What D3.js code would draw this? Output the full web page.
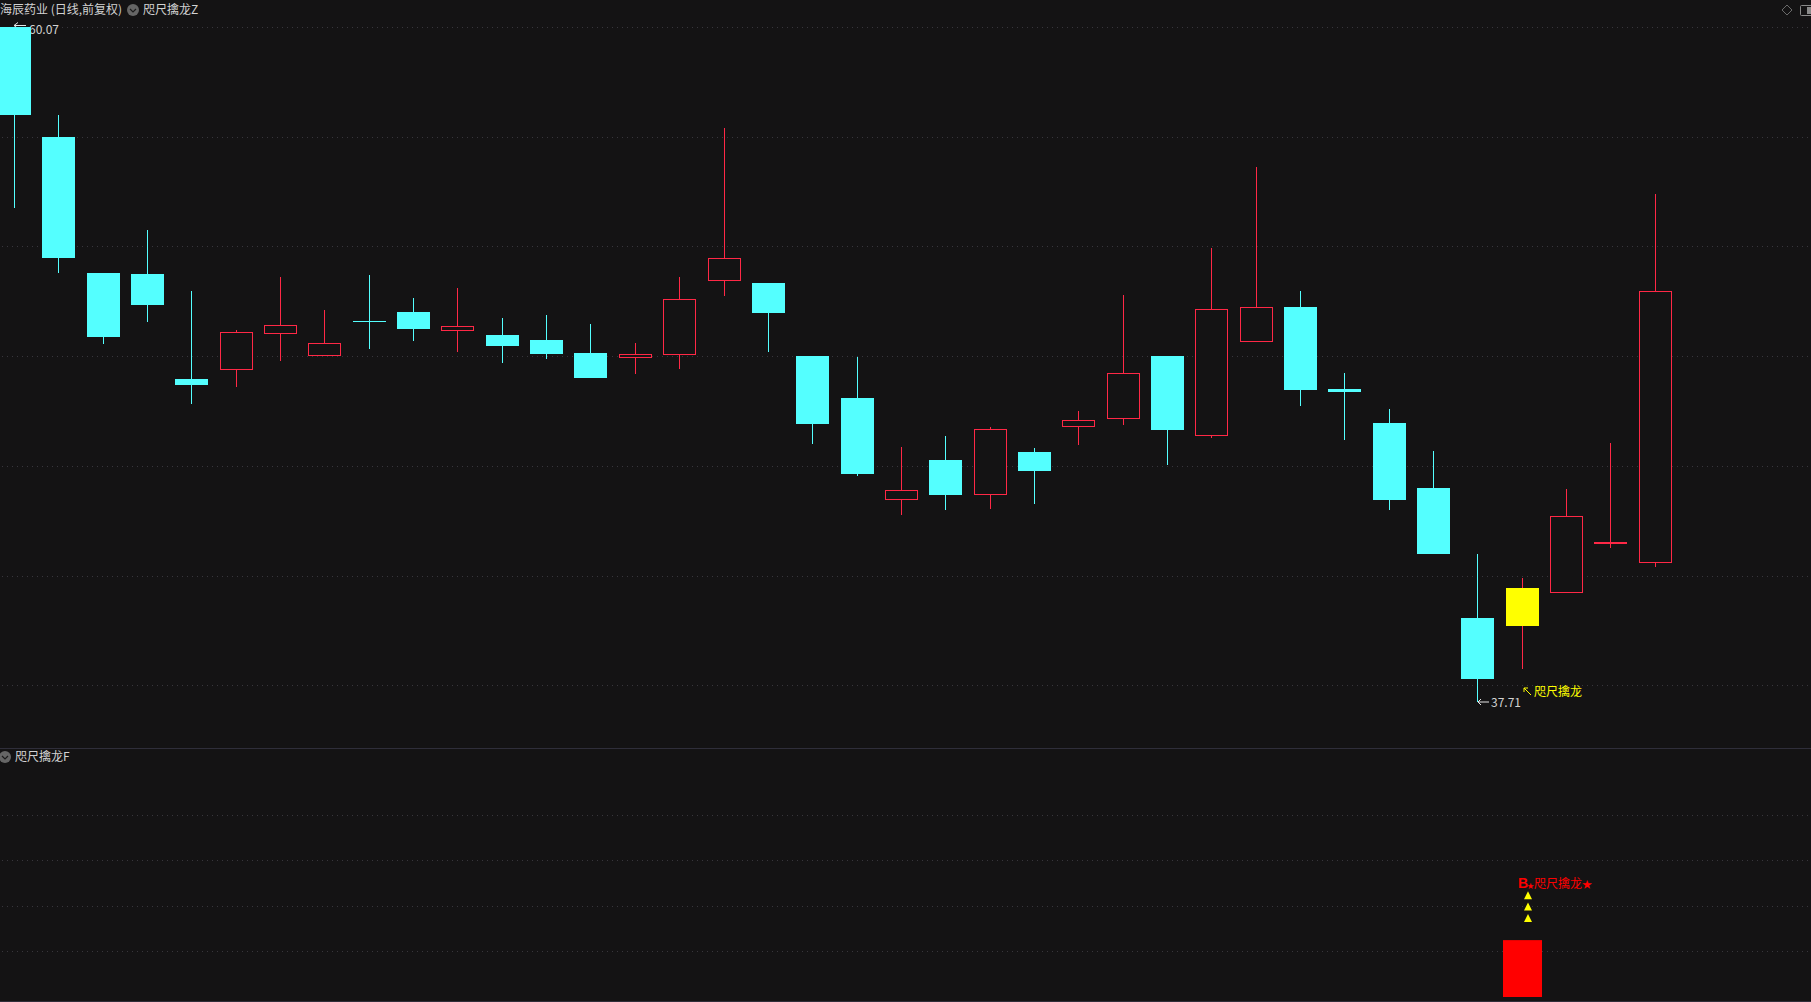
<!DOCTYPE html>
<html>
<head>
<meta charset="utf-8">
<script src="https://cdn.jsdelivr.net/npm/d3@7"></script>
<style>
html, body { margin: 0; padding: 0; background: #141314; overflow: hidden; }
svg { display: block; }
text { font-family: "Noto Sans CJK SC", "Liberation Sans", sans-serif; font-size: 12px; }
</style>
</head>
<body>
<svg></svg>
<script>
// 数据：K线（开、高、低、收）
var opens = [60.07, 56.42, 51.91, 51.88, 48.40, 48.74, 49.94, 49.21, 50.31, 50.62, 50.04, 49.86, 49.69, 49.26, 49.14, 49.24, 51.69, 51.58, 49.16,
    47.77, 44.43, 45.72, 44.60, 45.98, 46.85, 47.10, 49.16, 46.55, 49.67, 50.79, 48.07, 46.94, 44.79, 40.48, 40.21, 41.33, 42.98, 42.33];
var highs = [60.07, 57.15, 51.91, 53.34, 51.32, 50.03, 51.78, 50.69, 51.85, 51.09, 51.42, 50.42, 50.52, 50.22, 49.59, 51.78, 56.72, 51.58, 49.16,
    49.13, 46.15, 46.51, 46.81, 46.11, 47.34, 51.19, 49.16, 52.74, 55.43, 51.32, 48.60, 47.41, 46.01, 42.60, 41.80, 44.75, 46.28, 54.53];
var lows = [54.08, 51.92, 49.57, 50.29, 47.58, 48.15, 49.01, 49.21, 49.41, 49.66, 49.31, 48.94, 49.07, 48.43, 48.58, 48.74, 51.16, 49.31, 46.26,
    45.20, 43.90, 44.07, 44.10, 44.27, 46.22, 46.89, 45.55, 46.46, 49.67, 47.51, 46.39, 44.07, 42.60, 37.71, 38.80, 41.33, 42.80, 42.18];
var closes = [57.15, 52.42, 49.79, 50.85, 48.20, 49.95, 50.18, 49.58, 50.31, 50.06, 50.15, 49.50, 49.23, 48.43, 49.22, 51.04, 52.40, 50.59, 46.91,
    45.25, 44.71, 44.56, 46.73, 45.35, 47.03, 48.59, 46.71, 50.71, 50.78, 48.04, 47.97, 44.39, 42.60, 38.46, 41.47, 43.85, 43.01, 51.31];

// 主图网格价位、副图网格值
var priceGrid = [60.05, 56.42, 52.79, 49.15, 45.50, 41.85, 38.24];
var subGrid = [20, 40, 60, 80];

// 信号：第35根
var signalIndex = 34;
var subBarValue = 25;
var subTriangles = [33, 38, 43];

var maxPrice = 60.07, minPrice = 37.71;

var mainTitle = "海辰药业 (日线,前复权)";
var mainIndicator = "咫尺擒龙Z";
var subIndicator = "咫尺擒龙F";
var signalLabel = "咫尺擒龙";
var subLabel = "咫尺擒龙";

var width = 1811, height = 1002;
var cyan = "#54ffff", red = "#ff2846", textColor = "#d2d2d2", gridColor = "#38363c";

var svg = d3.select("svg").attr("width", width).attr("height", height);
svg.append("rect").attr("width", width).attr("height", height).attr("fill", "#141314");

// 比例尺
var x = d3.scaleLinear().domain([0, 37]).range([14.6, 1655.1]);
var y = d3.scaleLinear().domain([maxPrice, minPrice]).range([27, 701.5]);
var ySub = d3.scaleLinear().domain([0, 100]).range([997, 769.5]);

var px = function (i) { return Math.floor(x(i)); };
var py = function (v) { return Math.round(y(v)); };

// 网格
var dotted = function (sel, yPos) {
    sel.append("line")
        .attr("x1", 2).attr("x2", width)
        .attr("y1", yPos).attr("y2", yPos)
        .attr("stroke", gridColor)
        .attr("stroke-dasharray", "1,4");
};
priceGrid.forEach(function (d) { dotted(svg, Math.floor(y(d)) + 0.5); });
subGrid.forEach(function (d) { dotted(svg, Math.floor(ySub(d)) + 0.5); });

// 分隔线
svg.append("line").attr("x1", 0).attr("x2", width).attr("y1", 748.5).attr("y2", 748.5).attr("stroke", "#2f2e3a");
svg.append("line").attr("x1", 0).attr("x2", width).attr("y1", 1001.5).attr("y2", 1001.5).attr("stroke", "#2f2e3a");

// 最高价标注，K线盖在它上面
var hiX = px(0), hiY = py(maxPrice);
svg.append("path")
    .attr("d", "M" + (hiX + 4) + "," + (hiY - 4.5) + "L" + hiX + "," + (hiY - 1.5) + "L" + (hiX + 4) + "," + (hiY + 1.5) + "M" + hiX + "," + (hiY - 1.5) + "H" + (hiX + 12))
    .attr("fill", "none").attr("stroke", "#e6e6e6");
svg.append("text").attr("x", hiX + 15).attr("y", hiY + 7).attr("fill", textColor).text(maxPrice.toFixed(2));

// K线
var candles = d3.range(opens.length).map(function (i) {
    return {i: i, o: opens[i], h: highs[i], l: lows[i], c: closes[i]};
});
var isDown = function (d) { return d.c <= d.o; };
var isSolid = function (d) { return isDown(d) || d.i === signalIndex; };

var candle = svg.selectAll(".candle")
    .data(candles)
    .enter().append("g")
    .attr("class", "candle")
    .attr("shape-rendering", "crispEdges");

// 上影线
candle.append("rect")
    .attr("x", function (d) { return px(d.i); })
    .attr("y", function (d) { return py(d.h); })
    .attr("width", 1)
    .attr("height", function (d) { return Math.max(0, py(Math.max(d.o, d.c)) - py(d.h)); })
    .attr("fill", function (d) { return isDown(d) && d.i !== signalIndex ? cyan : red; });

// 下影线
candle.append("rect")
    .attr("x", function (d) { return px(d.i); })
    .attr("y", function (d) { return py(Math.min(d.o, d.c)); })
    .attr("width", 1)
    .attr("height", function (d) { return Math.max(0, py(d.l) - py(Math.min(d.o, d.c))); })
    .attr("fill", function (d) { return isDown(d) && d.i !== signalIndex ? cyan : red; });

// 实体：跌为实心青色，涨为空心红框，信号日为黄色
candle.append("rect")
    .attr("x", function (d) { return isSolid(d) ? px(d.i) - 16 : px(d.i) - 15.5; })
    .attr("y", function (d) {
        var top = py(Math.max(d.o, d.c));
        return isSolid(d) ? top : top + 0.5;
    })
    .attr("width", function (d) { return isSolid(d) ? 33 : 32; })
    .attr("height", function (d) {
        return Math.max(1, py(Math.min(d.o, d.c)) - py(Math.max(d.o, d.c)));
    })
    .attr("fill", function (d) {
        if (d.i === signalIndex) return "#ffff00";
        return isDown(d) ? cyan : "#141314";
    })
    .attr("stroke", function (d) { return isSolid(d) ? "none" : red; });

// 最低价标注
var loX = px(33), loY = py(minPrice);
svg.append("path")
    .attr("d", "M" + (loX + 4) + "," + (loY - 3) + "L" + (loX + 1) + "," + loY + "L" + (loX + 4) + "," + (loY + 3) + "M" + (loX + 1) + "," + loY + "H" + (loX + 12))
    .attr("fill", "none").attr("stroke", "#e6e6e6");
svg.append("text").attr("x", loX + 14).attr("y", loY + 5).attr("fill", textColor).text(minPrice.toFixed(2));

// 信号日标注
var sigX = px(signalIndex), sigY = py(lows[signalIndex]);
svg.append("path")
    .attr("d", "M" + (sigX + 2) + "," + (sigY + 19) + "v4M" + (sigX + 2) + "," + (sigY + 19) + "h4M" + (sigX + 2) + "," + (sigY + 19) + "l7,7")
    .attr("fill", "none").attr("stroke", "#ffff00");
svg.append("text").attr("x", sigX + 12).attr("y", sigY + 27).attr("fill", "#ffff00").text(signalLabel);

// 副图：红柱、三角、文字
svg.append("rect")
    .attr("x", px(signalIndex) - 19)
    .attr("y", ySub(subBarValue))
    .attr("width", 39)
    .attr("height", ySub(0) - ySub(subBarValue))
    .attr("fill", "#ff0000");

svg.selectAll(".tri")
    .data(subTriangles)
    .enter().append("path")
    .attr("class", "tri")
    .attr("d", function (d) {
        var b = ySub(d), c = sigX + 6;
        return "M" + (c - 4) + "," + b + "L" + c + "," + (b - 8) + "L" + (c + 4) + "," + b + "Z";
    })
    .attr("fill", "#ffff00");

var subY = Math.round(ySub(48));
svg.append("text").attr("x", sigX - 4).attr("y", subY).attr("fill", "#ff0000").style("font-size", "14px").style("font-weight", "bold").style("font-family", "Liberation Sans").text("B");
svg.append("text").attr("x", sigX + 5).attr("y", subY).attr("fill", "#ff0000").style("font-size", "7px").text("★");
svg.append("text").attr("x", sigX + 12).attr("y", subY).attr("fill", "#ff0000").text(subLabel);
svg.append("text").attr("x", sigX + 60).attr("y", subY).attr("fill", "#ff0000").style("font-size", "10px").text("★");

// 标题栏
var chevron = function (cx, cy) {
    svg.append("circle").attr("cx", cx).attr("cy", cy).attr("r", 6).attr("fill", "#666666");
    svg.append("path")
        .attr("d", "M" + (cx - 3) + "," + (cy - 1) + "L" + cx + "," + (cy + 2) + "L" + (cx + 3) + "," + (cy - 1))
        .attr("fill", "none").attr("stroke", "#1c1c1c").attr("stroke-width", 1.2);
};
svg.append("text").attr("x", 0).attr("y", 14).attr("fill", textColor).text(mainTitle);
chevron(133, 10);
svg.append("text").attr("x", 143).attr("y", 14).attr("fill", textColor).text(mainIndicator);
chevron(5, 757);
svg.append("text").attr("x", 15).attr("y", 761).attr("fill", textColor).text(subIndicator);

// 右上角按钮
svg.append("path").attr("d", "M1787,5L1792,10L1787,15L1782,10Z").attr("fill", "none").attr("stroke", "#6a6a6a");
svg.append("rect").attr("x", 1800.5).attr("y", 5.5).attr("width", 14).attr("height", 10).attr("rx", 1).attr("fill", "none").attr("stroke", "#8a8a8a");
svg.append("rect").attr("x", 1807).attr("y", 7).attr("width", 4).attr("height", 7).attr("fill", "#8a8a8a");
</script>
</body>
</html>
